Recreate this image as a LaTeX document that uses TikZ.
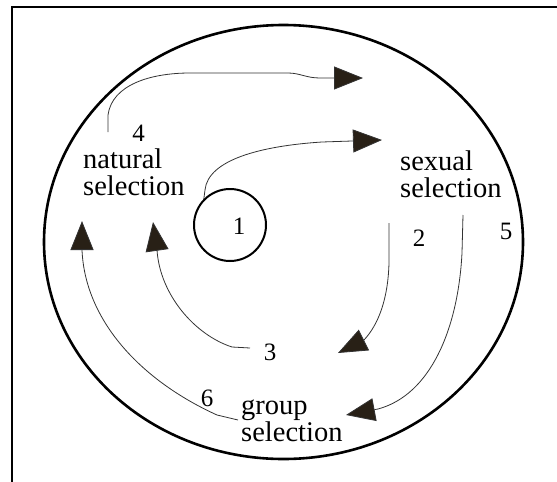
\documentclass[tikz,border=0pt]{standalone}
\usepackage{fontspec}
\setmainfont{Liberation Serif}
\usetikzlibrary{arrows.meta}
\definecolor{headfill}{RGB}{40,32,22}
\begin{document}
\begin{tikzpicture}[x=1pt,y=-1pt,
	flow/.style={draw=black!80, line width=0.8pt, -{Triangle[length=29pt,width=23pt,fill=headfill]}},
	lbl/.style={font=\fontsize{28.5}{27}\selectfont, inner sep=0pt, align=left, anchor=base west},
	num/.style={font=\fontsize{25}{25}\selectfont, inner sep=0pt}]
	\useasboundingbox (0,0) rectangle (557,482);
	\draw[line width=2.5pt] (12,482) -- (12,7) -- (557,7);
	\draw[line width=2.6pt] (283.5,242) ellipse [x radius=239.5, y radius=217];
	\node[circle, draw, line width=2pt, minimum size=72pt, inner sep=0pt] (c1) at (230,225) {};
	\node[num] (n1) at (239,226) {1};
	% base anchor sits on the last line
	\node[lbl] (nat) at (83,195) {natural\\selection};
	\node[lbl] (sex) at (400,197) {sexual\\selection};
	\node[lbl] (grp) at (241,441) {group\\selection};
	\node[num] (n2) at (419,238) {2};
	\node[num] (n3) at (270,352) {3};
	\node[num] (n4) at (138.5,133) {4};
	\node[num] (n5) at (506,231) {5};
	\node[num] (n6) at (207,398) {6};
	% arrow ends
	\coordinate (a4) at (108,132); \coordinate (t4) at (363,78);
	\coordinate (t1) at (382,140);
	\coordinate (a3) at (250,348); \coordinate (t3) at (153,222);
	\coordinate (a6) at (238,420); \coordinate (t6) at (82,221);
	\coordinate (a2) at (389,223); \coordinate (t2) at (338,353);
	\coordinate (a5) at (463,215); \coordinate (t5) at (346,415);
	\draw[flow] (a4) -- (108,115) .. controls (112,85) and (150,73) .. (190,73) -- (288,73) .. controls (300,73) and (306,78) .. (320,78) -- (t4);
	\draw[flow] (c1.135) -- (205,190) .. controls (208,160) and (260,146) .. (322,142) -- (t1);
	\draw[flow] (a3) -- (232,347) .. controls (195,335) and (160,295) .. (157,250) -- (t3);
	\draw[flow] (a6) -- (217,415) .. controls (140,380) and (85,320) .. (82,250) -- (t6);
	\draw[flow] (a2) -- (389,263) .. controls (388,300) and (378,325) .. (364,340) -- (t2);
	\draw[flow] (a5) -- (462,253) .. controls (458,330) and (430,395) .. (378,409) -- (t5);
\end{tikzpicture}
\end{document}
